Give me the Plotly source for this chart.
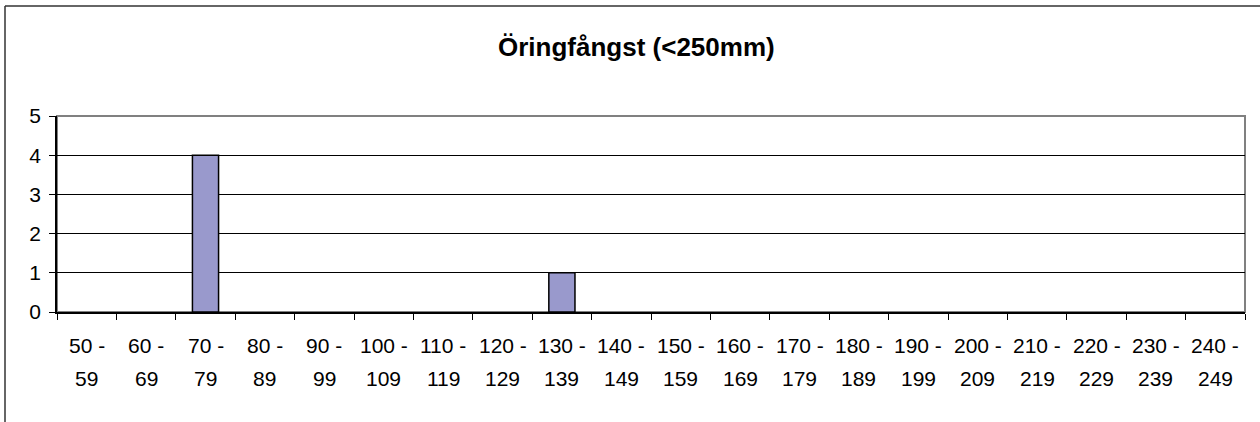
import plotly.graph_objects as go

categories = ["50 - 59", "60 - 69", "70 - 79", "80 - 89", "90 - 99", "100 - 109", "110 - 119",
              "120 - 129", "130 - 139", "140 - 149", "150 - 159", "160 - 169", "170 - 179",
              "180 - 189", "190 - 199", "200 - 209", "210 - 219", "220 - 229", "230 - 239", "240 - 249"]
line1 = ["50 -", "60 -", "70 -", "80 -", "90 -", "100 -", "110 -", "120 -", "130 -", "140 -",
         "150 -", "160 -", "170 -", "180 -", "190 -", "200 -", "210 -", "220 -", "230 -", "240 -"]
line2 = ["59", "69", "79", "89", "99", "109", "119", "129", "139", "149",
         "159", "169", "179", "189", "199", "209", "219", "229", "239", "249"]
counts = [0, 0, 4, 0, 0, 0, 0, 0, 1, 0, 0, 0, 0, 0, 0, 0, 0, 0, 0, 0]
y_ticks = [0, 1, 2, 3, 4, 5]
title = "Öringfångst (<250mm)"

FONT = "Liberation Sans, Arial, sans-serif"

fig = go.Figure()
fig.add_trace(go.Bar(
    x=categories, y=[v if v else None for v in counts],
    marker=dict(color="#9999CC", line=dict(color="black", width=1.5)),
    showlegend=False,
))

W, H = 1260, 422
L, R, T, B = 57, 15, 116, 110
pw, ph = W - L - R, H - T - B

annotations = []
for c, a, b in zip(categories, line1, line2):
    annotations.append(dict(x=c, xref="x", y=0, yref="paper", text=a, showarrow=False,
                            yanchor="middle", yshift=-33, font=dict(size=21, color="black", family=FONT)))
    annotations.append(dict(x=c, xref="x", y=0, yref="paper", text=b, showarrow=False,
                            yanchor="middle", yshift=-66, font=dict(size=21, color="black", family=FONT)))
annotations.append(dict(text="<b>" + title + "</b>", x=(636 - L) / pw, xref="paper", xanchor="center",
                        y=(H - B - 47) / ph, yref="paper", yanchor="middle", showarrow=False,
                        font=dict(size=26, color="black", family=FONT)))

shapes = [
    # plot area border (gray top/right)
    dict(type="rect", xref="x domain", yref="y domain", x0=0, x1=1, y0=0, y1=1,
         line=dict(color="#808080", width=2), layer="below"),
    # outer chart border
    dict(type="line", xref="paper", yref="paper", x0=(5 - L) / pw, x1=(5 - L) / pw,
         y0=-2, y1=(H - B - 6) / ph, line=dict(color="#333333", width=1.5)),
    dict(type="line", xref="paper", yref="paper", x0=(5 - L) / pw, x1=1.2,
         y0=(H - B - 6) / ph, y1=(H - B - 6) / ph, line=dict(color="#333333", width=1.5)),
]

fig.update_layout(
    width=W, height=H,
    margin=dict(l=L, r=R, t=T, b=B, pad=0),
    paper_bgcolor="white", plot_bgcolor="white",
    bargap=0.56,
    font=dict(family=FONT, size=21, color="black"),
    annotations=annotations,
    shapes=shapes,
    xaxis=dict(type="category", tickson="boundaries", ticks="outside", ticklen=6,
               tickcolor="black", showticklabels=False, showgrid=False,
               showline=True, linecolor="black", linewidth=1.5, zeroline=False),
    yaxis=dict(range=[0, 5], tickvals=y_ticks, ticks="outside", ticklen=6, tickcolor="black",
               showgrid=True, gridcolor="black", gridwidth=1, showline=True, linecolor="black",
               linewidth=1.5, zeroline=False, tickfont=dict(size=21, family=FONT, color="black"),
               ticklabelstandoff=4),
)

fig.write_html("out.html", config={"displayModeBar": False},
               post_script="document.body.style.margin='0';")
